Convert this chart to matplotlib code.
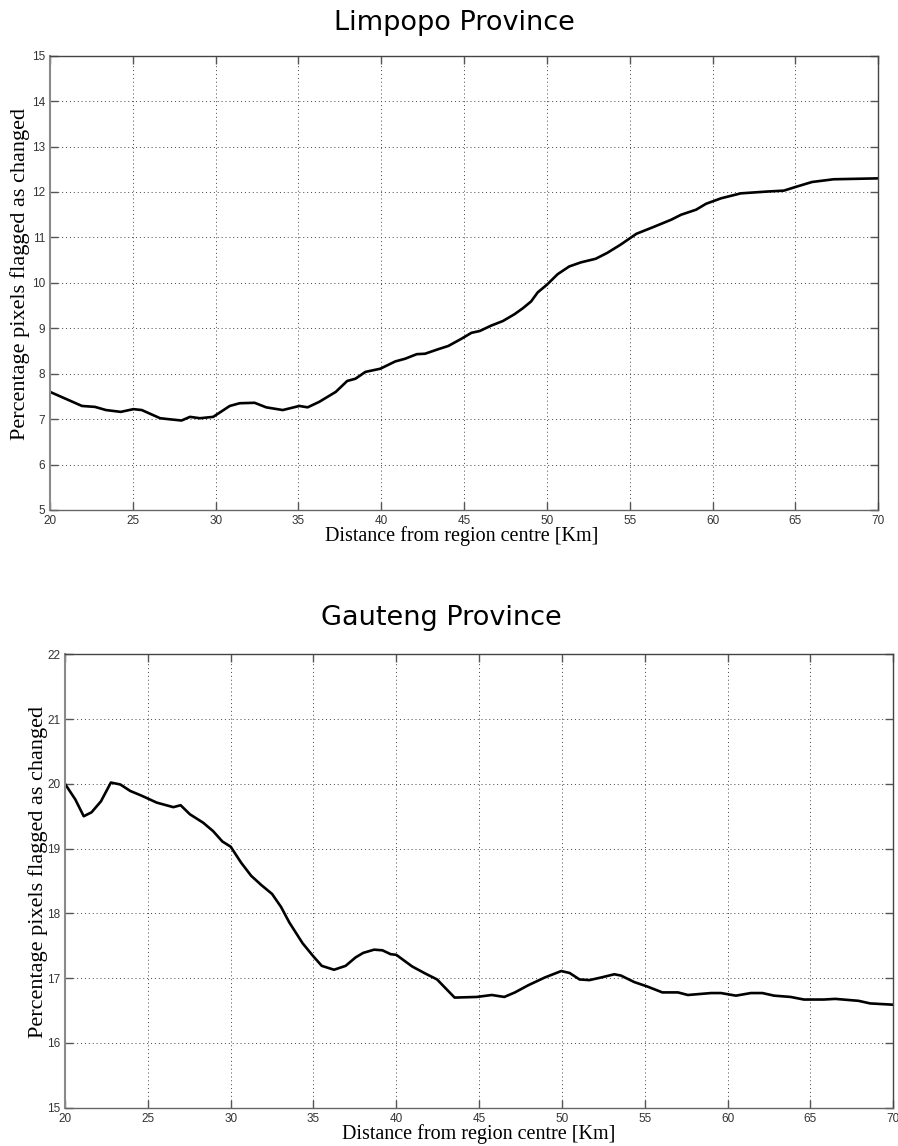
import matplotlib
matplotlib.use("Agg")
import matplotlib.pyplot as plt

# ---- data ----
x_limpopo = [20.0, 21.93, 22.71, 23.38, 24.27, 25.04, 25.54, 26.65, 27.14, 27.94,
             28.45, 29.05, 29.85, 30.85, 31.45, 32.35, 33.05, 34.05, 35.05, 35.55,
             36.25, 37.25, 37.94, 38.44, 39.04, 39.94, 40.84, 41.44, 42.14, 42.64,
             43.44, 44.04, 44.84, 45.44, 45.94, 46.64, 47.34, 48.04, 48.54, 49.04,
             49.44, 50.0, 50.64, 51.34, 52.04, 52.94, 53.64, 54.44, 55.4, 56.5,
             57.5, 58.1, 59.0, 59.6, 60.5, 61.7, 63.3, 64.3, 65.0, 66.0, 67.3, 70.0]
y_limpopo = [7.60, 7.29, 7.27, 7.20, 7.16, 7.22, 7.20, 7.02, 7.00, 6.97,
             7.05, 7.02, 7.05, 7.29, 7.35, 7.36, 7.26, 7.20, 7.29, 7.26,
             7.38, 7.60, 7.84, 7.89, 8.04, 8.11, 8.27, 8.33, 8.43, 8.44,
             8.54, 8.61, 8.77, 8.90, 8.94, 9.06, 9.16, 9.31, 9.44, 9.59,
             9.79, 9.96, 10.19, 10.36, 10.45, 10.53, 10.66, 10.84, 11.08, 11.24,
             11.39, 11.50, 11.61, 11.74, 11.86, 11.97, 12.01, 12.03, 12.11, 12.22, 12.28, 12.30]

x_gauteng = [20.0, 20.62, 21.13, 21.6, 22.17, 22.77, 23.34, 23.94, 24.6, 25.54,
             26.54, 26.98, 27.54, 28.34, 28.94, 29.5, 30.0, 30.64, 31.24, 31.84,
             32.5, 33.04, 33.54, 34.34, 34.98, 35.5, 36.24, 36.94, 37.54, 38.0,
             38.66, 39.16, 39.66, 40.0, 40.96, 41.76, 42.46, 43.52, 44.86, 45.76,
             46.52, 47.16, 47.96, 48.96, 49.96, 50.46, 51.06, 51.66, 52.36, 53.16,
             53.56, 54.36, 55.16, 56.06, 57.0, 57.6, 59.0, 59.6, 60.5, 61.4,
             62.1, 62.8, 63.8, 64.6, 65.8, 66.5, 67.9, 68.6, 70.0]
y_gauteng = [20.0, 19.76, 19.50, 19.56, 19.73, 20.02, 19.99, 19.89, 19.82, 19.71,
             19.64, 19.67, 19.53, 19.40, 19.27, 19.11, 19.03, 18.78, 18.58, 18.44,
             18.30, 18.10, 17.86, 17.54, 17.34, 17.19, 17.13, 17.19, 17.32, 17.39,
             17.44, 17.43, 17.37, 17.36, 17.18, 17.07, 16.98, 16.70, 16.71, 16.74,
             16.71, 16.78, 16.89, 17.01, 17.11, 17.08, 16.98, 16.97, 17.01, 17.06,
             17.04, 16.94, 16.87, 16.78, 16.78, 16.74, 16.77, 16.77, 16.73, 16.77,
             16.77, 16.73, 16.71, 16.67, 16.67, 16.68, 16.65, 16.61, 16.59]

x_ticks = [20, 25, 30, 35, 40, 45, 50, 55, 60, 65, 70]
yticks_limpopo = [5, 6, 7, 8, 9, 10, 11, 12, 13, 14, 15]
yticks_gauteng = [15, 16, 17, 18, 19, 20, 21, 22]

titles = ["Limpopo Province", "Gauteng Province"]
xlabel = "Distance from region centre [Km]"
ylabel = "Percentage pixels flagged as changed"

W, H = 898, 1146
fig = plt.figure(figsize=(W / 100, H / 100), dpi=100)

def px_axes(l, t, r, b):
    return fig.add_axes([l / W, 1 - b / H, (r - l) / W, (b - t) / H])

ax1 = px_axes(50, 55.7, 878.3, 510)
ax2 = px_axes(65, 654.3, 893.3, 1107.7)

serif = ["Liberation Serif", "DejaVu Serif"]

def style(ax, xs, ys, yticks, ylab_xy, xlab_xy):
    ax.plot(xs, ys, color="black", lw=1.9, solid_joinstyle="round")
    ax.set_xlim(20, 70)
    ax.set_ylim(yticks[0], yticks[-1])
    ax.set_xticks(x_ticks)
    ax.set_yticks(yticks)
    ax.grid(True, color="#444444", linestyle=(0, (1, 3)), lw=0.7)
    ax.tick_params(direction="in", length=6, width=1, color="#555555",
                   top=True, right=True, labelsize=8.5, labelcolor="#333333", pad=3.5)
    for lab in ax.get_xticklabels() + ax.get_yticklabels():
        lab.set_family(["Liberation Sans", "DejaVu Sans"])
    for s in ax.spines.values():
        s.set_color("#444444")
        s.set_linewidth(1.0)
    ax.spines["left"].set_color("#8a8a8a")
    ax.spines["left"].set_linewidth(1.5)
    ax.spines["bottom"].set_color("#666666")
    ax.set_ylabel(ylabel, family=serif, fontsize=16)
    ax.set_xlabel(xlabel, family=serif, fontsize=14.5)
    ax.yaxis.set_label_coords(*ylab_xy)
    ax.xaxis.set_label_coords(*xlab_xy)

style(ax1, x_limpopo, y_limpopo, yticks_limpopo, (-0.024, 0.52), (0.497, -0.035))
style(ax2, x_gauteng, y_gauteng, yticks_gauteng, (-0.0205, 0.52), (0.5, -0.036))

fig.text(454.5 / W, 1 - 23 / H, titles[0], ha="center", va="center",
         fontsize=19.5, family="DejaVu Sans")
fig.text(441 / W, 1 - 618 / H, titles[1], ha="center", va="center",
         fontsize=19.5, family="DejaVu Sans")

fig.savefig("out.png", dpi=100)
